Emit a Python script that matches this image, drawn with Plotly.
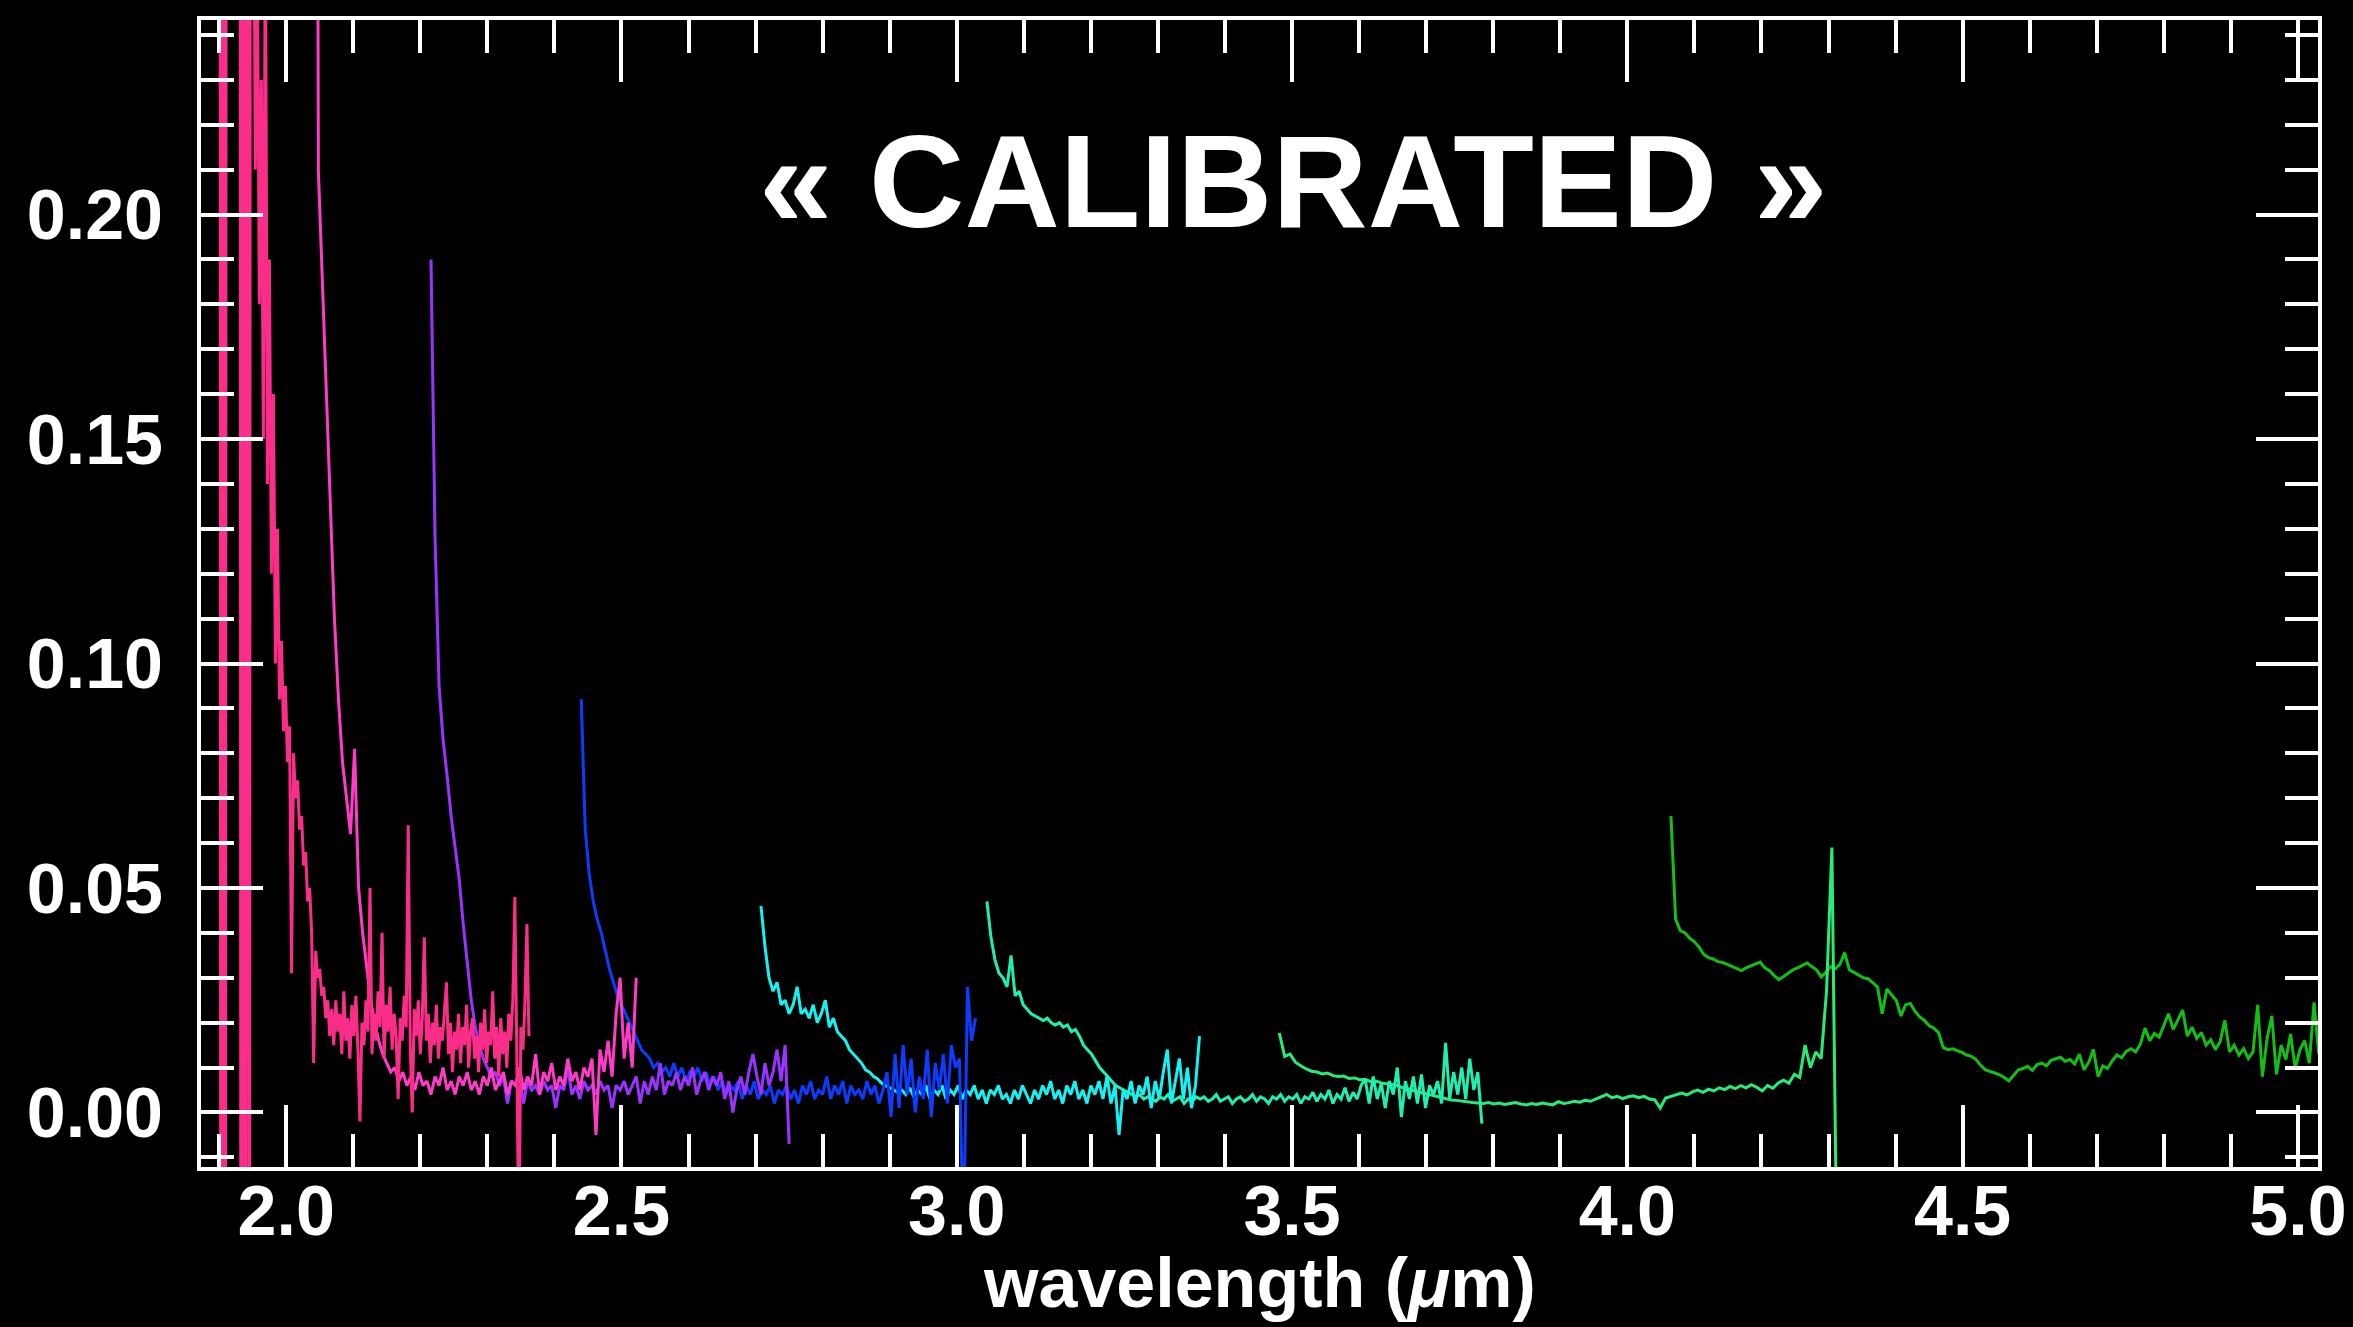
import plotly.graph_objects as go

# Wavelength sampling of each spectral order: first sample and step (micron)
pink1_start, pink1_step = 1.870, 0.003
pink2_start, pink2_step = 2.042, 0.006
purple_start, purple_step = 2.216, 0.006
blue_start, blue_step = 2.440, 0.006
cyan_start, cyan_step = 2.708, 0.006
aqua_start, aqua_step = 3.045, 0.006
mint_start, mint_step = 3.481, 0.008
green_start, green_step = 4.065, 0.007

# Calibrated flux of each order
pink1_flux = [
    0.90, 0.90, 0.90, 0.90, 0.90, 0.90, 0.90, 0.90, 0.90, 0.90,
    0.90, -0.30, 0.90, -0.30, 0.90, 0.90, 0.90, 0.90, 0.90, 0.90,
    0.90, -0.30, 0.90, -0.30, 0.90, -0.25, 0.90, 0.30, 0.21, 0.26,
    0.18, 0.23, 0.15, 0.27, 0.14, 0.19, 0.12, 0.16, 0.10, 0.13,
    0.092, 0.105, 0.085, 0.095, 0.078, 0.086, 0.031, 0.080, 0.070, 0.074,
    0.063, 0.066, 0.055, 0.058, 0.047, 0.050, 0.040, 0.011, 0.036, 0.030,
    0.032, 0.026, 0.028, 0.021, 0.025, 0.017, 0.023, 0.015, 0.025, 0.018,
    0.022, 0.013, 0.027, 0.016, 0.021, 0.012, 0.024, 0.017, 0.026, 0.014,
    -0.002, 0.020, 0.015, 0.025, 0.018, 0.050, 0.013, 0.022, 0.016, 0.027,
    0.019, 0.040, 0.012, 0.024, 0.018, 0.028, 0.014, 0.022, 0.017, 0.003,
    0.021, 0.016, 0.026, 0.019, 0.064, 0.015, 0.000, 0.023, 0.017, 0.025,
    0.013, 0.021, 0.039, 0.016, 0.022, 0.011, 0.020, 0.015, 0.024, 0.012,
    0.019, 0.016, 0.023, 0.029, 0.013, 0.020, 0.009, 0.018, 0.014, 0.022,
    0.011, 0.019, 0.015, 0.024, 0.010, 0.018, 0.021, 0.012, 0.017, 0.009,
    0.020, 0.014, 0.023, 0.011, 0.018, 0.015, 0.027, 0.012, 0.019, 0.008,
    0.021, 0.013, 0.018, 0.010, 0.022, 0.016, 0.025, 0.048, 0.012, -0.030,
    0.019, 0.014, 0.024, 0.042, 0.017,
]
pink2_flux = [
    0.60, 0.210, 0.185, 0.160, 0.132, 0.110, 0.092, 0.078, 0.070, 0.062,
    0.081, 0.050, 0.040, 0.032, 0.025, 0.020, 0.016, 0.013, 0.011, 0.009,
    0.010, 0.007, 0.009, 0.006, 0.008, 0.005, 0.009, 0.006, 0.007, 0.004,
    0.008, 0.006, 0.010, 0.005, 0.007, 0.004, 0.008, 0.006, 0.009, 0.005,
    0.007, 0.004, 0.008, 0.006, 0.010, 0.005, 0.007, 0.009, 0.004, 0.007,
    0.006, 0.010, 0.005, 0.008, 0.006, 0.013, 0.004, 0.009, 0.007, 0.011,
    0.005, 0.008, 0.006, 0.012, 0.007, 0.009, 0.005, 0.010, 0.008, 0.012,
    -0.005, 0.014, 0.009, 0.016, 0.008, 0.022, 0.030, 0.012, 0.020, 0.010,
    0.030,
]
purple_flux = [
    0.190, 0.128, 0.095, 0.083, 0.075, 0.066, 0.059, 0.052, 0.042, 0.033,
    0.025, 0.019, 0.015, 0.012, 0.010, 0.008, 0.009, 0.006, 0.008, 0.002,
    0.007, 0.006, 0.008, 0.002, 0.007, 0.005, 0.006, 0.004, 0.007, 0.005,
    0.006, 0.001, 0.006, 0.005, 0.010, 0.004, 0.006, 0.003, 0.007, 0.005,
    0.006, 0.004, 0.007, 0.005, 0.006, 0.001, 0.006, 0.005, 0.007, 0.004,
    0.006, 0.008, 0.002, 0.007, 0.004, 0.008, 0.005, 0.011, 0.004, 0.007,
    0.006, 0.009, 0.005, 0.008, 0.006, 0.010, 0.004, 0.007, 0.009, 0.005,
    0.008, 0.006, 0.009, 0.003, 0.007, 0.000, 0.005, 0.008, 0.004, 0.009,
    0.013, 0.008, 0.004, 0.011, 0.006, 0.009, 0.014, 0.007, 0.015, -0.007,
]
blue_flux = [
    0.092, 0.063, 0.053, 0.047, 0.043, 0.040, 0.036, 0.032, 0.029, 0.026,
    0.024, 0.022, 0.020, 0.018, 0.016, 0.014, 0.013, 0.012, 0.010, 0.011,
    0.009, 0.010, 0.008, 0.011, 0.008, 0.010, 0.007, 0.009, 0.008, 0.010,
    0.007, 0.009, 0.006, 0.008, 0.005, 0.007, 0.004, 0.006, 0.005, 0.007,
    0.003, 0.006, 0.004, 0.007, 0.003, 0.005, 0.004, 0.006, 0.002, 0.005,
    0.004, 0.006, 0.003, 0.005, 0.002, 0.006, 0.004, 0.007, 0.003, 0.005,
    0.004, 0.008, 0.003, 0.006, 0.004, 0.007, 0.002, 0.006, 0.004, 0.005,
    0.003, 0.007, 0.004, 0.006, 0.002, 0.005, 0.009, -0.001, 0.013, 0.001,
    0.015, 0.004, 0.012, 0.000, 0.008, 0.003, 0.014, -0.001, 0.011, 0.005,
    0.013, 0.002, 0.015, 0.010, 0.012, -0.030, 0.028, 0.016, 0.021,
]
cyan_flux = [
    0.046, 0.037, 0.030, 0.027, 0.029, 0.024, 0.025, 0.022, 0.024, 0.028,
    0.022, 0.023, 0.021, 0.024, 0.020, 0.022, 0.025, 0.019, 0.021, 0.018,
    0.017, 0.016, 0.014, 0.013, 0.012, 0.011, 0.0095, 0.009, 0.008, 0.0075,
    0.0065, 0.006, 0.0055, 0.005, 0.0045, 0.005, 0.004, 0.0055, 0.0035, 0.005,
    0.004, 0.006, 0.003, 0.005, 0.004, 0.006, 0.003, 0.005, 0.004, 0.006,
    0.003, 0.005, 0.004, 0.006, 0.003, 0.005, 0.002, 0.005, 0.004, 0.006,
    0.003, 0.004, 0.002, 0.005, 0.003, 0.006, 0.004, 0.002, 0.005, 0.003,
    0.006, 0.004, 0.007, 0.003, 0.005, 0.002, 0.006, 0.004, 0.007, 0.003,
    0.005, 0.002, 0.006, 0.004, 0.007, 0.003, 0.008, 0.002, 0.006, -0.005,
    0.005, 0.003, 0.007, 0.002, 0.006, 0.004, 0.008, 0.001, 0.007, 0.003,
    0.009, 0.014, 0.002, 0.007, 0.012, 0.003, 0.010, 0.001, 0.006, 0.017,
]
aqua_flux = [
    0.047, 0.039, 0.034, 0.031, 0.030, 0.028, 0.035, 0.026, 0.027, 0.024,
    0.023, 0.022, 0.0215, 0.021, 0.0205, 0.021, 0.020, 0.0195, 0.020, 0.019,
    0.0195, 0.018, 0.0185, 0.017, 0.015, 0.014, 0.013, 0.0115, 0.010, 0.009,
    0.008, 0.007, 0.006, 0.0055, 0.005, 0.0045, 0.004, 0.0035, 0.004, 0.003,
    0.0035, 0.003, 0.0025, 0.0035, 0.003, 0.004, 0.0025, 0.003, 0.0035, 0.002,
    0.003, 0.0025, 0.0035, 0.003, 0.0035, 0.0025, 0.003, 0.004, 0.0025, 0.003,
    0.0035, 0.002, 0.003, 0.0035, 0.0025, 0.003, 0.004, 0.0025, 0.0035, 0.003,
    0.002, 0.0035, 0.003, 0.004, 0.0025, 0.0035, 0.003, 0.004, 0.002, 0.0035,
    0.003, 0.0045, 0.0025, 0.004, 0.003, 0.005, 0.002, 0.004, 0.003, 0.0055,
    0.0025, 0.0045, 0.003, 0.006, 0.0075, 0.002, 0.008, 0.003, 0.0065, 0.001,
    0.007, 0.004, 0.010, -0.001, 0.007, 0.003, 0.008, 0.002, 0.0085, 0.001,
    0.006, 0.004, 0.007, 0.002, 0.0155, 0.003, 0.009, 0.004, 0.010, 0.003,
    0.012, 0.005, 0.009, -0.0025,
]
mint_flux = [
    0.0177, 0.0125, 0.0130, 0.0112, 0.0104, 0.0097, 0.0092, 0.0090, 0.0086, 0.0088,
    0.0082, 0.0080, 0.0081, 0.0076, 0.0077, 0.0073, 0.0074, 0.0069, 0.0070, 0.0066,
    0.0064, 0.0062, 0.0060, 0.0055, 0.0053, 0.0049, 0.0046, 0.0042, 0.0039, 0.0036,
    0.0033, 0.0031, 0.0028, 0.0027, 0.0025, 0.0024, 0.0022, 0.0021, 0.0020, 0.0022,
    0.0019, 0.0021, 0.0018, 0.0020, 0.0022, 0.0019, 0.0017, 0.0020, 0.0018, 0.0021,
    0.0019, 0.0017, 0.0024, 0.0020, 0.0022, 0.0025, 0.0023, 0.0027, 0.0025, 0.0030,
    0.0034, 0.0040, 0.0033, 0.0036, 0.0031, 0.0035, 0.0037, 0.0033, 0.0036, 0.0030,
    0.0028, 0.0010, 0.0032, 0.0036, 0.0040, 0.0043, 0.0039, 0.0046, 0.0050, 0.0045,
    0.0052, 0.0048, 0.0055, 0.0051, 0.0058, 0.0053, 0.0060, 0.0055, 0.0062, 0.0056,
    0.0048, 0.0060, 0.0054, 0.0066, 0.0072, 0.0065, 0.0085, 0.0078, 0.0150, 0.0100,
    0.0135, 0.0120, 0.0270, 0.0590, -0.0400, -0.0300,
]
green_flux = [
    0.0660, 0.0430, 0.0405, 0.0400, 0.0388, 0.0380, 0.0368, 0.0352, 0.0345, 0.0342,
    0.0336, 0.0334, 0.0330, 0.0325, 0.0320, 0.0316, 0.0322, 0.0326, 0.0331, 0.0335,
    0.0322, 0.0316, 0.0305, 0.0296, 0.0303, 0.0311, 0.0318, 0.0322, 0.0328, 0.0333,
    0.0325, 0.0318, 0.0302, 0.0312, 0.0325, 0.0320, 0.0330, 0.0356, 0.0318, 0.0312,
    0.0305, 0.0300, 0.0298, 0.0290, 0.0280, 0.0220, 0.0275, 0.0262, 0.0250, 0.0215,
    0.0240, 0.0243, 0.0225, 0.0213, 0.0205, 0.0193, 0.0188, 0.0178, 0.0145, 0.0140,
    0.0142, 0.0138, 0.0134, 0.0128, 0.0125, 0.0118, 0.0105, 0.0095, 0.0092, 0.0088,
    0.0084, 0.0078, 0.0070, 0.0082, 0.0095, 0.0098, 0.0103, 0.0094, 0.0107, 0.0110,
    0.0104, 0.0116, 0.0120, 0.0123, 0.0114, 0.0118, 0.0108, 0.0130, 0.0095, 0.0112,
    0.0140, 0.0080, 0.0104, 0.0098, 0.0115, 0.0128, 0.0122, 0.0136, 0.0142, 0.0135,
    0.0152, 0.0188, 0.0160, 0.0176, 0.0168, 0.0195, 0.0220, 0.0185, 0.0205, 0.0228,
    0.0170, 0.0190, 0.0165, 0.0178, 0.0150, 0.0162, 0.0140, 0.0158, 0.0205, 0.0135,
    0.0150, 0.0128, 0.0142, 0.0120, 0.0135, 0.0240, 0.0080, 0.0165, 0.0215, 0.0085,
    0.0150, 0.0118, 0.0175, 0.0098, 0.0140, 0.0160, 0.0110, 0.0245, 0.0130,
]

# Drawn back to front: long-wavelength orders first, the pink orders on top
orders = [
    (green_start, green_step, green_flux, "#13bf17"),
    (mint_start, mint_step, mint_flux, "#26ec78"),
    (aqua_start, aqua_step, aqua_flux, "#1ff0b2"),
    (cyan_start, cyan_step, cyan_flux, "#14f2f2"),
    (blue_start, blue_step, blue_flux, "#0d3cff"),
    (purple_start, purple_step, purple_flux, "#9a33ff"),
    (pink2_start, pink2_step, pink2_flux, "#ff3cc8"),
    (pink1_start, pink1_step, pink1_flux, "#fa2e88"),
]

fig = go.Figure()
for start, step, flux, color in orders:
    wl = [round(start + step * k, 4) for k in range(len(flux))]
    fig.add_trace(go.Scatter(x=wl, y=flux, mode="lines",
                             line=dict(color=color, width=3),
                             hoverinfo="skip"))

font_family = "Liberation Sans, Arial, Helvetica, sans-serif"
tick_font = dict(family=font_family, size=70, color="white", weight="bold")

axis_common = dict(
    ticks="inside", tickwidth=4, tickcolor="white",
    showline=True, linewidth=4, linecolor="white", mirror="ticks",
    showgrid=False, zeroline=False, tickfont=tick_font,
)

fig.update_layout(
    template="none",
    width=2353, height=1327,
    paper_bgcolor="black", plot_bgcolor="black",
    margin=dict(l=201, r=35, t=20, b=160, autoexpand=False),
    showlegend=False,
    xaxis=dict(
        range=[1.8730, 5.0299], tickmode="linear", tick0=0, dtick=0.5,
        tickformat=".1f", ticklen=62, ticklabelstandoff=-20,
        minor=dict(tick0=0, dtick=0.1, ticks="inside", ticklen=33,
                   tickwidth=4, tickcolor="white", showgrid=False),
        **axis_common,
    ),
    yaxis=dict(
        range=[-0.01214, 0.24332], tickmode="linear", tick0=0, dtick=0.05,
        tickformat=".2f", ticklen=62, ticklabelstandoff=20,
        minor=dict(tick0=0, dtick=0.01, ticks="inside", ticklen=33,
                   tickwidth=4, tickcolor="white", showgrid=False),
        **axis_common,
    ),
    annotations=[
        dict(text="\u00ab CALIBRATED \u00bb", xref="paper", yref="paper",
             x=0.5158, y=0.8592, xanchor="center", yanchor="middle",
             showarrow=False,
             font=dict(family=font_family, size=132, color="white", weight="bold")),
        dict(text="wavelength (<i>\u03bc</i>m)", xref="paper", yref="paper",
             x=0.5, y=-0.1015, xanchor="center", yanchor="middle",
             showarrow=False,
             font=dict(family=font_family, size=70, color="white", weight="bold")),
    ],
)

fig.write_html("out.html")
